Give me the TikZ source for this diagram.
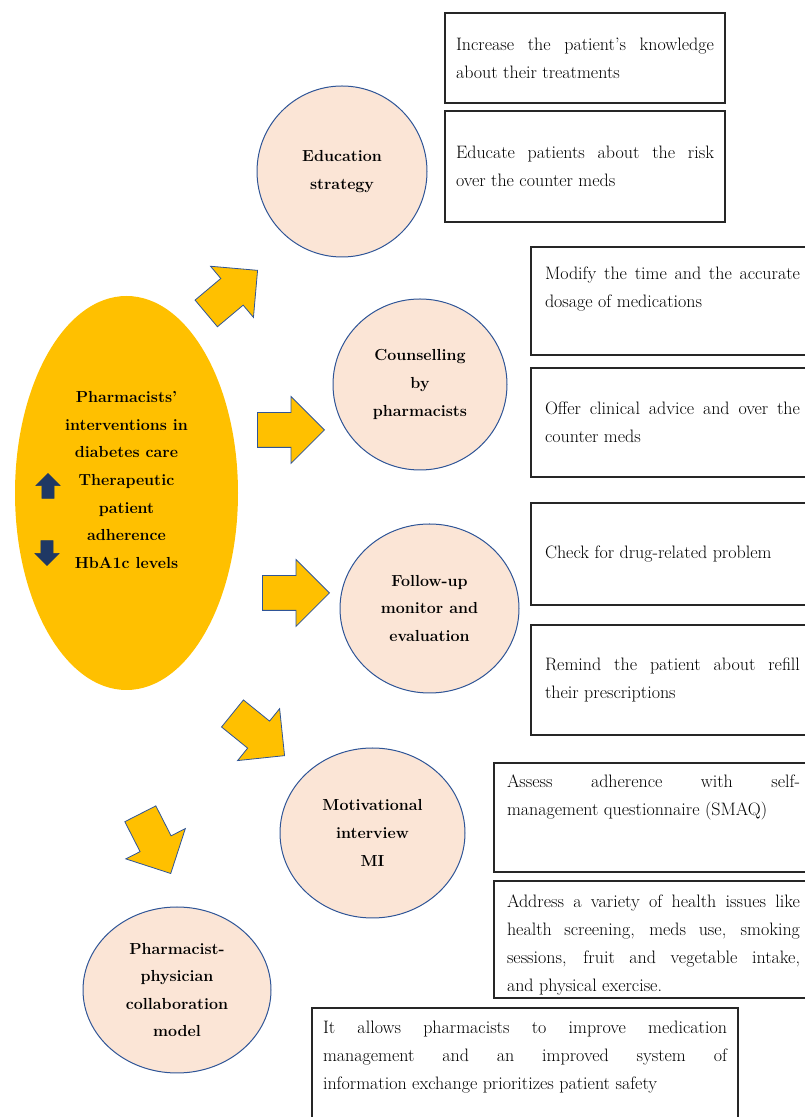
\documentclass[tikz,border=0pt]{standalone}
\usetikzlibrary{shapes.geometric,shapes.arrows}
\definecolor{gold}{HTML}{FFC000}
\definecolor{peach}{HTML}{FBE5D6}
\definecolor{rim}{HTML}{2F5597}
\definecolor{navy}{HTML}{1F3864}
\tikzset{
	strategy/.style={ellipse, draw=rim, line width=1pt, fill=peach, inner sep=0pt,
		align=center, font=\fontsize{16}{27.6}\selectfont\bfseries},
	infobox/.style={draw=black!85, line width=1.1pt, fill=white, inner sep=0pt,
		align=justify, font=\fontsize{18}{28}\selectfont},
	bigarrow/.style={single arrow, draw=rim, line width=0.8pt, fill=gold, inner xsep=0pt, inner ysep=17pt,
		single arrow head extend=16, minimum height=67, anchor=tip},
	tinyarrow/.style={single arrow, draw=navy, fill=navy, inner xsep=0pt, inner ysep=6pt,
		single arrow head extend=6, minimum height=25}
}
\begin{document}
\begin{tikzpicture}[x=1pt,y=1pt]
	\useasboundingbox (0,0) rectangle (805,1117);
	% central ellipse
	\node[ellipse, fill=gold, minimum width=223, minimum height=394] (core) at (126.5,624) {};
	\node[align=center, font=\fontsize{16}{27.6}\selectfont\bfseries] (coretxt) at ([yshift=13]core.center)
		{Pharmacists’\\interventions in\\diabetes care\\Therapeutic\\patient\\adherence\\HbA1c levels};
	\node[tinyarrow, rotate=90] (up) at (48,628) {};
	\node[tinyarrow, rotate=-90] (down) at (47,567) {};
	% strategies
	\node[strategy, minimum width=170, minimum height=171] (edu) at (342,945.5) {Education\\strategy};
	\node[strategy, minimum width=174, minimum height=171] (couns) at (420,732.5) {Counselling\\by\\pharmacists};
	\node[strategy, minimum width=179, minimum height=169] (follow) at (429.5,508.5) {Follow-up\\monitor and\\evaluation};
	\node[strategy, minimum width=185, minimum height=170] (motiv) at (372.5,284) {Motivational\\interview\\MI};
	\node[strategy, minimum width=188, minimum height=166] (collab) at (177,127) {Pharmacist-\\physician\\collaboration\\model};
	% block arrows
	\node[bigarrow, rotate=40] (arredu) at (258,847) {};
	\node[bigarrow] (arrcouns) at (325,687) {};
	\node[bigarrow] (arrfollow) at (330,524) {};
	\node[bigarrow, rotate=-39] (arrmotiv) at (285,361) {};
	\node[bigarrow, rotate=-63] (arrcollab) at (171,243) {};
	% boxes
	\node[infobox, minimum width=280, minimum height=90, text width=258] (edua) at (585,1059)
		{Increase the patient’s knowledge\linebreak about their treatments};
	\node[infobox, minimum width=280, minimum height=111, text width=258] (edub) at (585,950.5)
		{Educate patients about the risk\linebreak over the counter meds};
	\node[infobox, minimum width=283, minimum height=108, text width=255] (counsa) at (672.5,816)
		{Modify the time and the accurate\linebreak dosage of medications\par\kern24pt};
	\node[infobox, minimum width=283, minimum height=109, text width=255] (counsb) at (672.5,694.5)
		{Offer clinical advice and over the\linebreak counter meds};
	\node[infobox, minimum width=283, minimum height=102, text width=255] (followa) at (672.5,563)
		{Check for drug-related problem};
	\node[infobox, minimum width=283, minimum height=110, text width=255] (followb) at (672.5,437)
		{Remind the patient about refill\linebreak their prescriptions};
	\node[infobox, minimum width=319, minimum height=109, text width=293] (motiva) at (653.5,299.5)
		{Assess adherence with self-\linebreak management questionnaire (SMAQ)\par\kern40pt};
	\node[infobox, minimum width=319, minimum height=117, text width=293] (motivb) at (653.5,177.5)
		{Address a variety of health issues like\linebreak health screening, meds use, smoking\linebreak
		sessions, fruit and vegetable intake,\linebreak and physical exercise.\par\kern-10pt};
	\node[infobox, minimum width=426, minimum height=122, text width=404] (collaba) at (525,48)
		{It allows pharmacists to improve medication\linebreak management and an improved system of\linebreak
		information exchange prioritizes patient safety\par\kern24pt};
\end{tikzpicture}
\end{document}
